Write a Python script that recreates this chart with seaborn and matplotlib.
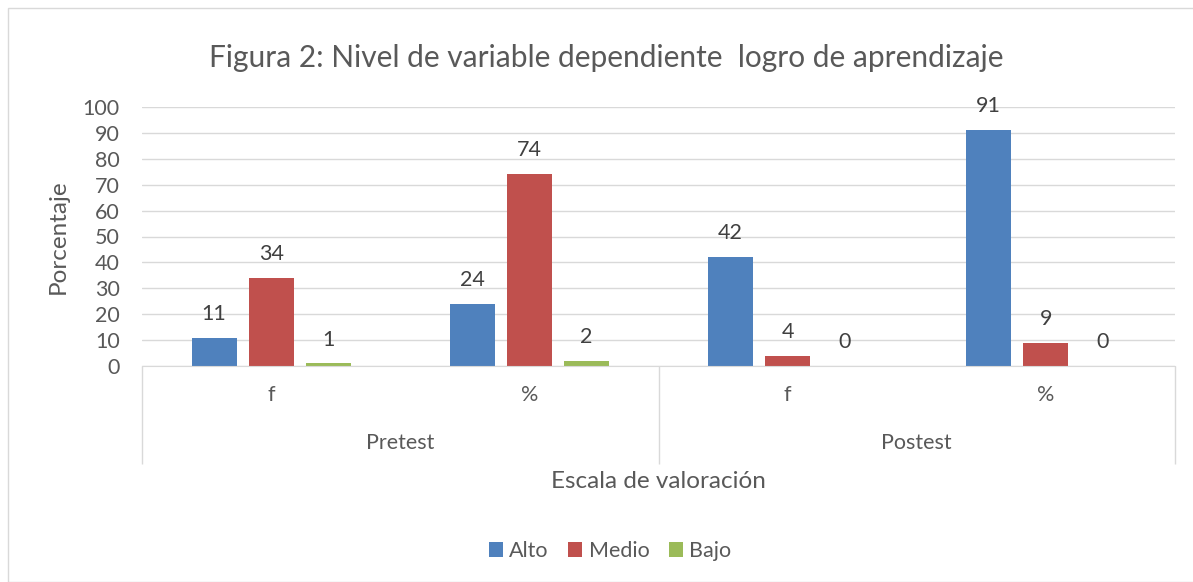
import pandas as pd
import seaborn as sns
import matplotlib.pyplot as plt
from matplotlib.patches import Rectangle

# Data
fases = ['Pretest', 'Pretest', 'Postest', 'Postest']
escalas = ['f', '%', 'f', '%']
alto = [11, 24, 42, 91]
medio = [34, 74, 4, 9]
bajo = [1, 2, 0, 0]
niveles = ['Alto', 'Medio', 'Bajo']
colores = ['#4F81BD', '#C0504D', '#9BBB59']

# Long table for seaborn
claves = [f'{fa}-{es}' for fa, es in zip(fases, escalas)]
rows = []
for nivel, vals in zip(niveles, [alto, medio, bajo]):
  for clave, v in zip(claves, vals):
    rows.append({'grupo': clave, 'nivel': nivel, 'valor': v})
df = pd.DataFrame(rows)

sns.set_style('white')
plt.rcParams['font.family'] = ['Lato', 'DejaVu Sans']
gris = '#595959'
fs = 15.5

fig = plt.figure(figsize=(11.93, 5.82), dpi=100)
ax = fig.add_axes([142 / 1193, 1 - 366 / 582, (1175 - 142) / 1193, (366 - 107) / 582])

sns.barplot(data=df, x='grupo', y='valor', hue='nivel', order=claves,
            hue_order=niveles, palette=colores, width=0.663, gap=0.21,
            saturation=1, linewidth=0, ax=ax, legend=True)

# Value labels
for cont in ax.containers:
  ax.bar_label(cont, fmt='%d', padding=10, fontsize=fs, color='#404040')

ax.set_ylim(0, 100)
ax.set_xlim(-0.5, 3.5)
ax.set_yticks(range(0, 101, 10))
ax.yaxis.grid(True, color='#d9d9d9', linewidth=1)
ax.set_axisbelow(True)
for s in ['top', 'right', 'left']:
  ax.spines[s].set_visible(False)
ax.spines['bottom'].set_color('#d9d9d9')
ax.tick_params(axis='y', length=0, pad=16, labelsize=fs, labelcolor=gris)
ax.tick_params(axis='x', length=0, pad=14, labelsize=fs, labelcolor=gris)
ax.set_xticks(range(4))
ax.set_xticklabels(escalas)
ax.set_xlabel('')
ax.set_ylabel('Porcentaje', fontsize=17.5, color=gris, labelpad=10)

# Multi-level category box under the axis
tr = ax.get_xaxis_transform()
ax.vlines([-0.5, 1.5, 3.5], -0.38, 0, transform=tr, colors='#d9d9d9',
          linewidth=1, clip_on=False)
ax.text(0.5, -0.297, 'Pretest', transform=tr, ha='center', va='center',
        fontsize=fs, color=gris)
ax.text(2.5, -0.297, 'Postest', transform=tr, ha='center', va='center',
        fontsize=fs, color=gris)

fig.text(658 / 1193, 1 - 482 / 582, 'Escala de valoración', ha='center',
         va='center', fontsize=17.5, color=gris)
fig.text(606 / 1193, 1 - 58 / 582,
         'Figura 2: Nivel de variable dependiente  logro de aprendizaje',
         ha='center', va='center', fontsize=21.5, color=gris)

# Legend at the bottom
handles, labels = ax.get_legend_handles_labels()
ax.legend(handles, labels, loc='center', bbox_to_anchor=(610 / 1193, 1 - 551 / 582),
          bbox_transform=fig.transFigure, ncol=3, frameon=False, fontsize=fs,
          labelcolor=gris, handlelength=0.65, handleheight=0.65,
          handletextpad=0.3, columnspacing=0.9)

# Chart area border
fig.patches.append(Rectangle((8 / 1193, 0), 1.1, 1 - 8 / 582,
                             transform=fig.transFigure, fill=False,
                             edgecolor='#d9d9d9', linewidth=1))

fig.savefig('out.png', dpi=100)
